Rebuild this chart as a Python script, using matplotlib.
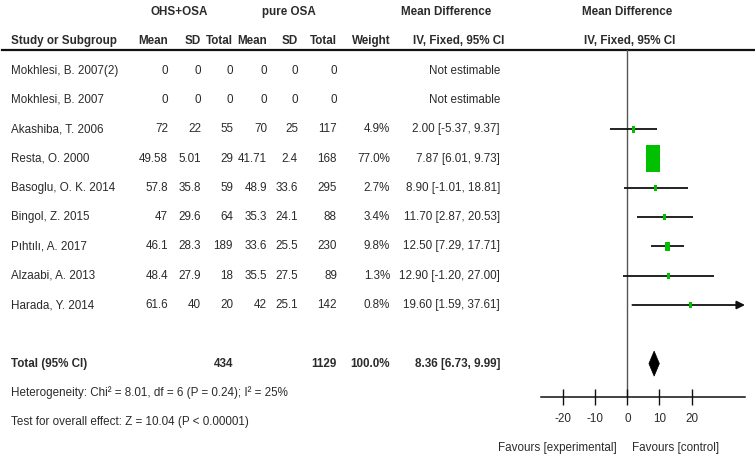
import matplotlib
matplotlib.use("Agg")
import matplotlib.pyplot as plt
from matplotlib import font_manager
from matplotlib.patches import Rectangle, Polygon

# ---------------- data ----------------
studies = ["Mokhlesi, B. 2007(2)", "Mokhlesi, B. 2007", "Akashiba, T. 2006", "Resta, O. 2000",
           "Basoglu, O. K. 2014", "Bingol, Z. 2015", "Pıhtılı, A. 2017", "Alzaabi, A. 2013",
           "Harada, Y. 2014"]
mean1 = [0, 0, 72, 49.58, 57.8, 47, 46.1, 48.4, 61.6]
sd1 = [0, 0, 22, 5.01, 35.8, 29.6, 28.3, 27.9, 40]
n1 = [0, 0, 55, 29, 59, 64, 189, 18, 20]
mean2 = [0, 0, 70, 41.71, 48.9, 35.3, 33.6, 35.5, 42]
sd2 = [0, 0, 25, 2.4, 33.6, 24.1, 25.5, 27.5, 25.1]
n2 = [0, 0, 117, 168, 295, 88, 230, 89, 142]
weight = [None, None, 4.9, 77.0, 2.7, 3.4, 9.8, 1.3, 0.8]
md = [None, None, 2.00, 7.87, 8.90, 11.70, 12.50, 12.90, 19.60]
ci_lo = [None, None, -5.37, 6.01, -1.01, 2.87, 7.29, -1.20, 1.59]
ci_hi = [None, None, 9.37, 9.73, 18.81, 20.53, 17.71, 27.00, 37.61]

total_n1 = 434
total_n2 = 1129
total_weight = 100.0
total_md = 8.36
total_lo = 6.73
total_hi = 9.99
heterogeneity = "Heterogeneity: Chi² = 8.01, df = 6 (P = 0.24); I² = 25%"
overall = "Test for overall effect: Z = 10.04 (P < 0.00001)"
xticks = [-20, -10, 0, 10, 20]
group1 = "OHS+OSA"
group2 = "pure OSA"

# ---------------- fonts ----------------
names = {f.name for f in font_manager.fontManager.ttflist}
if "Liberation Sans Narrow" in names:
    FAM = ["Liberation Sans Narrow", "DejaVu Sans"]
    FS = 10.2
else:
    FAM = ["Liberation Sans", "DejaVu Sans"]
    FS = 8.4
plt.rcParams["font.family"] = FAM
plt.rcParams["font.size"] = FS
TC = "#2b2b2b"

# ---------------- layout (pixels) ----------------
W, H = 755, 461
Y0, PITCH = 12.0, 29.3          # row k centre at Y0 + PITCH*k
X_ZERO, PXU = 627.3, 3.21       # forest x: pixel of 0, pixels per unit
FX_L, FX_R = 541, 745
LINE_Y, AXIS_Y = 50, 397


def krow(py):
    return (py - Y0) / PITCH


fig = plt.figure(figsize=(W / 100, H / 100), dpi=100)
tab = fig.add_axes([0, 0, 1, 1])
tab.set_xlim(0, W)
tab.set_ylim(krow(H), krow(0))
tab.axis("off")

fx = fig.add_axes([FX_L / W, 1 - AXIS_Y / H, (FX_R - FX_L) / W, (AXIS_Y - LINE_Y) / H])
fx.patch.set_alpha(0)
XL = (FX_L - X_ZERO) / PXU
XR = (FX_R - X_ZERO) / PXU
fx.set_xlim(XL, XR)
fx.set_ylim(krow(AXIS_Y), krow(LINE_Y))
for s in ("top", "left", "right"):
    fx.spines[s].set_visible(False)
fx.spines["bottom"].set_color("#111111")
fx.spines["bottom"].set_linewidth(1.1)
fx.set_yticks([])
fx.set_xticks(xticks)
fx.set_xticklabels([str(t) for t in xticks])
fx.tick_params(axis="x", direction="inout", length=11, width=1.0, color="#111111",
               pad=6, labelsize=FS, labelcolor=TC)

# ---------------- headers ----------------
bold = dict(fontweight="bold", color=TC, va="center")
tab.text(179, 0, group1, ha="center", **bold)
tab.text(289, 0, group2, ha="center", **bold)
tab.text(446, 0, "Mean Difference", ha="center", **bold)
tab.text(627, 0, "Mean Difference", ha="center", **bold)

col_right = [168, 201, 233, 267, 298, 337]
hdrs = ["Mean", "SD", "Total", "Mean", "SD", "Total"]
tab.text(11, 1, "Study or Subgroup", ha="left", **bold)
for x, h in zip(col_right, hdrs):
    tab.text(x, 1, h, ha="right", **bold)
tab.text(391, 1, "Weight", ha="right", **bold)
tab.text(459, 1, "IV, Fixed, 95% CI", ha="center", **bold)
tab.text(630, 1, "IV, Fixed, 95% CI", ha="center", **bold)
tab.axhline(krow(LINE_Y), xmin=2 / W, xmax=1, color="#111111", lw=1.6)

# ---------------- rows ----------------
reg = dict(color=TC, va="center")
for i, name in enumerate(studies):
    k = 2 + i
    tab.text(11, k, name, ha="left", **reg)
    vals = [mean1[i], sd1[i], n1[i], mean2[i], sd2[i], n2[i]]
    for x, v in zip(col_right, vals):
        tab.text(x, k, f"{v:g}", ha="right", **reg)
    if md[i] is None:
        tab.text(500, k, "Not estimable", ha="right", **reg)
        continue
    tab.text(390, k, f"{weight[i]:.1f}%", ha="right", **reg)
    tab.text(500, k, f"{md[i]:.2f} [{ci_lo[i]:.2f}, {ci_hi[i]:.2f}]", ha="right", **reg)

    # forest marks
    if ci_hi[i] > XR:
        fx.annotate("", xy=(XR, k), xytext=(ci_lo[i], k),
                    arrowprops=dict(arrowstyle="-|>", color="#111111", lw=1.3,
                                    mutation_scale=12, shrinkA=0, shrinkB=0))
    else:
        fx.plot([ci_lo[i], ci_hi[i]], [k, k], color="#111111", lw=1.3, solid_capstyle="butt")
    area = 378.0 * weight[i] / 77.0
    wpx = max(3.0, (area / 1.93) ** 0.5)
    hpx = 1.93 * wpx
    fx.add_patch(Rectangle((md[i] - wpx / PXU / 2, k - hpx / PITCH / 2), wpx / PXU, hpx / PITCH,
                           facecolor="#00c000", edgecolor="none", zorder=3))

# total row
kt = 2 + len(studies) + 1
tab.text(11, kt, "Total (95% CI)", ha="left", **bold)
tab.text(col_right[2], kt, f"{total_n1}", ha="right", **bold)
tab.text(col_right[5], kt, f"{total_n2}", ha="right", **bold)
tab.text(390, kt, f"{total_weight:.1f}%", ha="right", **bold)
tab.text(500, kt, f"{total_md:.2f} [{total_lo:.2f}, {total_hi:.2f}]", ha="right", **bold)
hh = 12.5 / PITCH
fx.add_patch(Polygon([(total_lo, kt), (total_md, kt - hh), (total_hi, kt), (total_md, kt + hh)],
                     closed=True, facecolor="black", edgecolor="black", lw=0.5, zorder=3))

fx.axvline(0, color="#555555", lw=1.0, zorder=1)

tab.text(11, kt + 1, heterogeneity, ha="left", **reg)
tab.text(11, kt + 2, overall, ha="left", **reg)

tab.text(617, krow(448), "Favours [experimental]", ha="right", **reg)
tab.text(632, krow(448), "Favours [control]", ha="left", **reg)

fig.savefig("out.png", dpi=100)
